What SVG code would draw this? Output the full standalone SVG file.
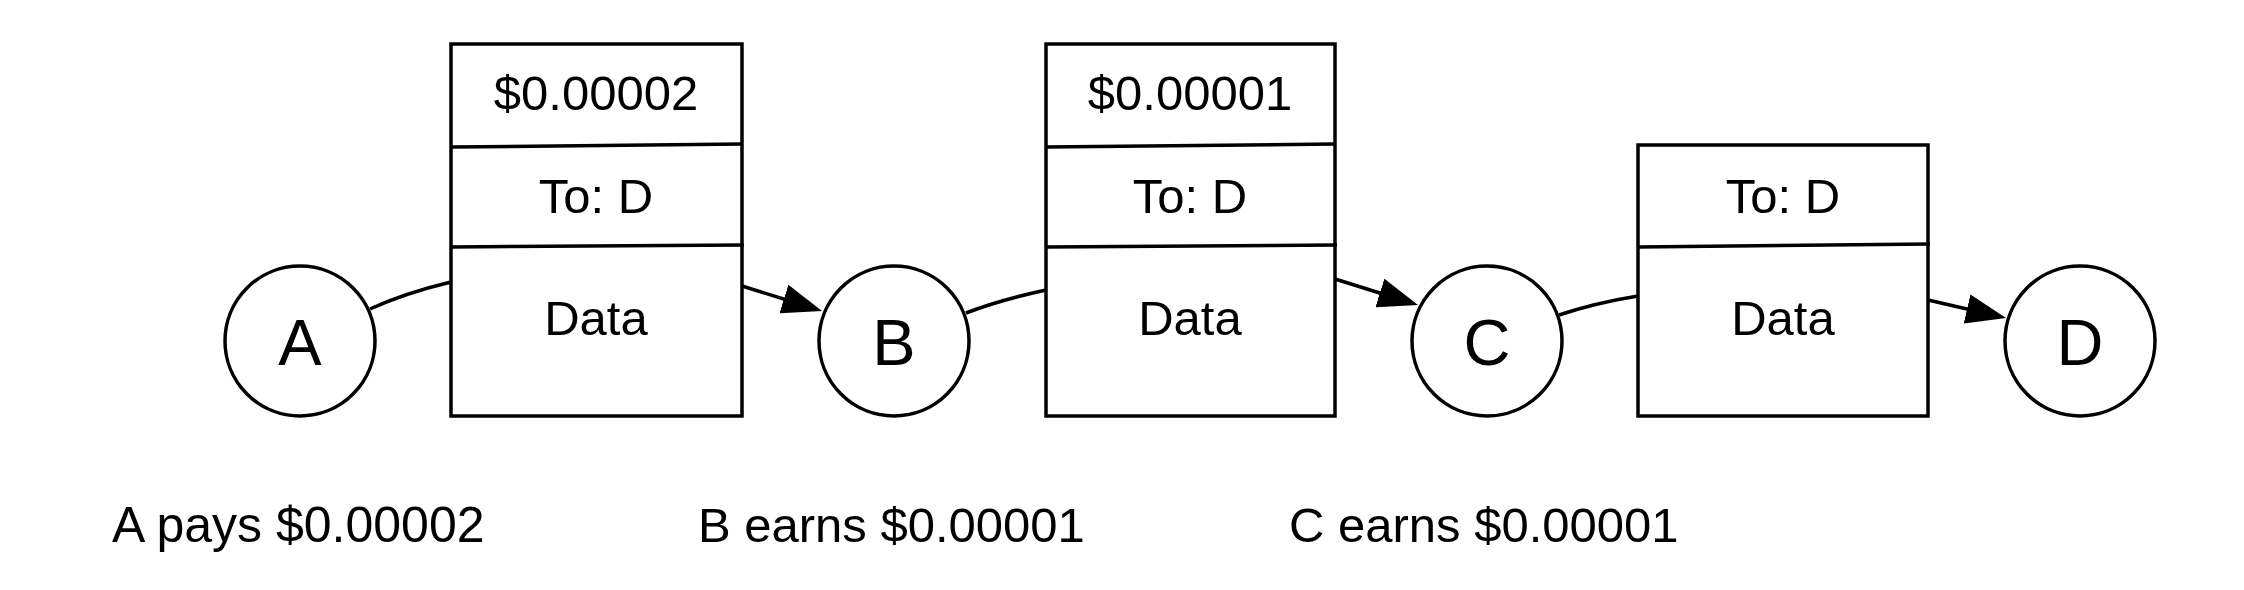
<svg xmlns="http://www.w3.org/2000/svg" width="2244" height="590" viewBox="0 0 2244 590">
<style>
.shape{fill:#fff;stroke:#000;stroke-width:3.5}
.div{fill:none;stroke:#000;stroke-width:3.5}
.conn{fill:none;stroke:#000;stroke-width:3.5}
.t{font-family:"Liberation Sans",Arial,sans-serif;font-size:49px;fill:#000;text-anchor:middle}
.big{font-family:"Liberation Sans",Arial,sans-serif;font-size:65px;fill:#000;text-anchor:middle}
.lbl{font-family:"Liberation Sans",Arial,sans-serif;font-size:50px;fill:#000}
.lbl2{font-family:"Liberation Sans",Arial,sans-serif;font-size:49px;fill:#000}
</style>
<defs>
<marker id="arr" viewBox="0 0 40 30" refX="30" refY="15" markerWidth="40" markerHeight="30" markerUnits="userSpaceOnUse" orient="auto">
<path d="M0,0 L40,15 L0,30 z" fill="#000"/>
</marker>
</defs>
<rect width="2244" height="590" fill="#fff"/>
<g id="connectors">
<path class="conn" d="M370,309 Q405,293 451,282"/>
<path class="conn" d="M742,286 L812.5,308" marker-end="url(#arr)"/>
<path class="conn" d="M966,313 Q1000,300 1046,290"/>
<path class="conn" d="M1335,279 L1408.5,302" marker-end="url(#arr)"/>
<path class="conn" d="M1559,315 Q1595,303 1638,296"/>
<path class="conn" d="M1928,300 L1996.3,315.8" marker-end="url(#arr)"/>
</g>
<g id="nodeA">
<circle class="shape" cx="300" cy="341" r="75"/>
<text class="big" x="300" y="365">A</text>
</g>
<g id="packet1">
<rect class="shape" x="451" y="44" width="291" height="372"/>
<path class="div" d="M451,147 L742,144"/>
<path class="div" d="M451,247 L744,245"/>
<text class="t" x="596" y="110">$0.00002</text>
<text class="t" x="596" y="213">To: D</text>
<text class="t" x="596" y="335">Data</text>
</g>
<g id="nodeB">
<circle class="shape" cx="894" cy="341" r="75"/>
<text class="big" x="894" y="365">B</text>
</g>
<g id="packet2">
<rect class="shape" x="1046" y="44" width="289" height="372"/>
<path class="div" d="M1046,147 L1335,144"/>
<path class="div" d="M1046,247 L1337,245"/>
<text class="t" x="1190" y="110">$0.00001</text>
<text class="t" x="1190" y="213">To: D</text>
<text class="t" x="1190" y="335">Data</text>
</g>
<g id="nodeC">
<circle class="shape" cx="1487" cy="341" r="75"/>
<text class="big" x="1487" y="365">C</text>
</g>
<g id="packet3">
<rect class="shape" x="1638" y="145" width="290" height="271"/>
<path class="div" d="M1638,247 L1930,244"/>
<text class="t" x="1783" y="213">To: D</text>
<text class="t" x="1783" y="335">Data</text>
</g>
<g id="nodeD">
<circle class="shape" cx="2080" cy="341" r="75"/>
<text class="big" x="2080" y="365">D</text>
</g>
<g id="labels">
<text class="lbl" x="112" y="542">A pays $0.00002</text>
<text class="lbl2" x="698" y="542">B earns $0.00001</text>
<text class="lbl2" x="1289" y="542">C earns $0.00001</text>
</g>
</svg>
